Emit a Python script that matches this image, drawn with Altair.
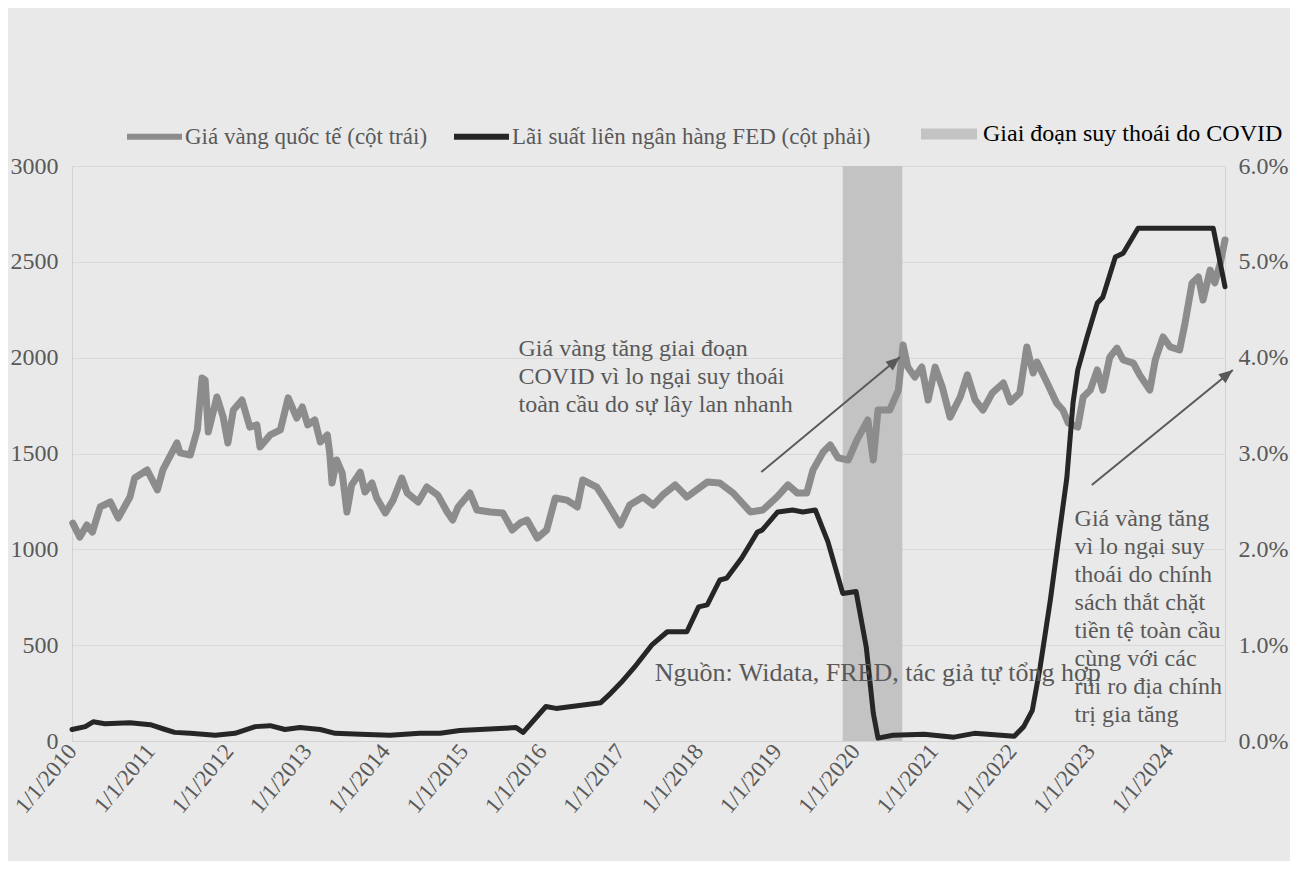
import altair as alt
import pandas as pd

# ---------------- data ----------------
GOLD = "Giá vàng quốc tế (cột trái)"
FED = "Lãi suất liên ngân hàng FED (cột phải)"
COVID = "Giai đoạn suy thoái do COVID"

gold_year = [2010.01, 2010.10, 2010.19, 2010.26, 2010.36, 2010.49, 2010.59, 2010.74, 2010.80, 2010.96,
             2011.09, 2011.16, 2011.34, 2011.38, 2011.51, 2011.60, 2011.66, 2011.70, 2011.74, 2011.85, 2011.93, 2011.99,
             2012.06, 2012.17, 2012.27, 2012.36, 2012.40, 2012.53, 2012.66, 2012.76, 2012.87, 2012.94,
             2013.01, 2013.10, 2013.17, 2013.26, 2013.29, 2013.32, 2013.38, 2013.45, 2013.51, 2013.57, 2013.68, 2013.74, 2013.83, 2013.89,
             2014.00, 2014.10, 2014.21, 2014.28, 2014.42, 2014.53, 2014.67, 2014.79, 2014.86, 2014.93,
             2015.08, 2015.17, 2015.34, 2015.50, 2015.62, 2015.72, 2015.81, 2015.94,
             2016.06, 2016.17, 2016.32, 2016.45, 2016.52, 2016.70, 2016.83,
             2017.00, 2017.12, 2017.29, 2017.42, 2017.54, 2017.70, 2017.85,
             2018.11, 2018.27, 2018.44, 2018.66, 2018.82,
             2019.00, 2019.14, 2019.26, 2019.38, 2019.46, 2019.59, 2019.68, 2019.78, 2019.91,
             2020.02, 2020.16, 2020.23, 2020.29, 2020.44, 2020.55, 2020.61, 2020.67, 2020.76, 2020.85, 2020.93,
             2021.02, 2021.11, 2021.21, 2021.34, 2021.43, 2021.53, 2021.63, 2021.75, 2021.89, 2021.98,
             2022.10, 2022.19, 2022.27, 2022.32, 2022.45, 2022.57, 2022.65, 2022.72, 2022.84, 2022.91,
             2023.00, 2023.09, 2023.16, 2023.25, 2023.34, 2023.42, 2023.55, 2023.63, 2023.76, 2023.83, 2023.93,
             2024.02, 2024.14, 2024.21, 2024.30, 2024.38, 2024.44, 2024.53, 2024.59, 2024.66, 2024.72]
gold_price = [1137, 1064, 1127, 1090, 1221, 1247, 1163, 1273, 1372, 1414,
              1310, 1414, 1555, 1503, 1492, 1623, 1894, 1883, 1612, 1795, 1690, 1555,
              1727, 1779, 1638, 1649, 1534, 1597, 1623, 1790, 1685, 1743,
              1649, 1675, 1560, 1597, 1503, 1346, 1466, 1398, 1195, 1336, 1403, 1299, 1346, 1268,
              1190, 1257, 1372, 1294, 1247, 1325, 1283, 1195, 1153, 1221,
              1294, 1205, 1195, 1190, 1101, 1137, 1153, 1059,
              1101, 1268, 1257, 1221, 1362, 1325, 1242,
              1127, 1231, 1273, 1231, 1283, 1336, 1273,
              1351, 1346, 1294, 1195, 1205,
              1273, 1336, 1294, 1294, 1414, 1508, 1545, 1477, 1466,
              1570, 1675, 1466, 1727, 1727, 1831, 2066, 1951, 1899, 1951, 1779,
              1951, 1847, 1690, 1795, 1910, 1779, 1727, 1816, 1868, 1769,
              1816, 2056, 1920, 1977, 1868, 1763, 1727, 1659, 1638, 1795,
              1831, 1936, 1831, 2003, 2050, 1988, 1972, 1910, 1831, 1988, 2108,
              2056, 2040, 2181, 2390, 2421, 2301, 2457, 2390, 2494, 2614]

fed_year = [2010.00, 2010.17, 2010.27, 2010.42, 2010.74, 2011.00, 2011.19, 2011.31, 2011.51, 2011.83,
            2012.08, 2012.34, 2012.53, 2012.72, 2012.91, 2013.17, 2013.36, 2013.68, 2014.06, 2014.44,
            2014.70, 2014.95, 2015.46, 2015.67, 2015.76, 2016.05, 2016.18, 2016.75, 2016.88, 2017.01,
            2017.20, 2017.40, 2017.60, 2017.85, 2018.00, 2018.11, 2018.27, 2018.36, 2018.55, 2018.75,
            2018.81, 2019.01, 2019.20, 2019.33, 2019.49, 2019.65, 2019.84, 2020.01, 2020.14, 2020.23,
            2020.29, 2020.48, 2020.88, 2021.26, 2021.52, 2022.03, 2022.15, 2022.26, 2022.36, 2022.49,
            2022.61, 2022.70, 2022.78, 2022.84, 2022.96, 2023.09, 2023.16, 2023.32, 2023.42, 2023.61,
            2024.57, 2024.72]
fed_rate = [0.12, 0.15, 0.20, 0.18, 0.19, 0.17, 0.12, 0.09, 0.08, 0.06,
            0.08, 0.15, 0.16, 0.12, 0.14, 0.12, 0.08, 0.07, 0.06, 0.08,
            0.08, 0.11, 0.13, 0.14, 0.09, 0.36, 0.34, 0.40, 0.50, 0.61,
            0.79, 1.00, 1.14, 1.14, 1.40, 1.42, 1.68, 1.70, 1.91, 2.18,
            2.20, 2.39, 2.41, 2.39, 2.41, 2.08, 1.54, 1.56, 0.98, 0.29,
            0.03, 0.06, 0.07, 0.04, 0.08, 0.05, 0.15, 0.32, 0.77, 1.47,
            2.20, 2.74, 3.53, 3.87, 4.22, 4.57, 4.63, 5.05, 5.09, 5.35,
            5.35, 4.74]

covid_start = [2019.84]
covid_end = [2020.60]

x_ticks = list(range(2010, 2025))
left_ticks = [0, 500, 1000, 1500, 2000, 2500, 3000]
right_ticks = [0, 1, 2, 3, 4, 5, 6]

note_text = [
    "Giá vàng tăng giai đoạn\nCOVID vì lo ngại suy thoái\ntoàn cầu do sự lây lan nhanh",
    "Giá vàng tăng\nvì lo ngại suy\nthoái do chính\nsách thắt chặt\ntiền tệ toàn cầu\ncùng với các\nrủi ro địa chính\ntrị gia tăng",
]
note_x = [2015.70, 2022.80]
note_y = [2009, 1122]

arrow_x1 = [2018.80, 2023.02]
arrow_y1 = [1403, 1336]
arrow_x2 = [2020.57, 2024.82]
arrow_y2 = [2003, 1936]
arrow_angle = [50, 51]

source_text = ["Nguồn: Widata, FRED, tác giả tự tổng hợp"]
source_x = [2017.44]
source_y = [313]

# ---------------- tables ----------------
gold_df = pd.DataFrame({"year": gold_year, "value": gold_price, "series": GOLD})
fed_df = pd.DataFrame({"year": fed_year, "value": fed_rate, "series": FED})
band_df = pd.DataFrame({"start": covid_start, "end": covid_end, "label": [COVID]})
note_df = pd.DataFrame({"x": note_x, "y": note_y, "text": note_text})
arrow_df = pd.DataFrame({"x1": arrow_x1, "y1": arrow_y1, "x2": arrow_x2, "y2": arrow_y2, "angle": arrow_angle})
source_df = pd.DataFrame({"x": source_x, "y": source_y, "text": source_text})

# ---------------- styling ----------------
FONT = "Liberation Serif"
TXT = "#595959"
AXC = "#d2d2d2"

xscale = alt.Scale(domain=[2010, 2024.72], nice=False, zero=False)
xaxis = alt.Axis(values=x_ticks, labelExpr="'1/1/' + datum.value", labelAngle=-50,
                 labelFont=FONT, labelFontSize=23, labelColor=TXT, ticks=False, grid=False,
                 domainColor=AXC, domainWidth=1, labelPadding=6, title=None, labelOverlap=False)
X = lambda f: alt.X(f, type="quantitative", scale=xscale, axis=xaxis)

gscale = alt.Scale(domain=[0, 3000], nice=False, zero=True)
GY = lambda f: alt.Y(f, type="quantitative", scale=gscale, axis=None)

color_scale = alt.Scale(domain=[GOLD, FED], range=["#8c8c8c", "#262626"])
line_legend = alt.Legend(title=None, orient="none", legendX=52, legendY=-60, direction="horizontal",
                         symbolType="stroke", symbolSize=3025, symbolStrokeWidth=6,
                         labelFont=FONT, labelFontSize=23, labelColor=TXT, labelLimit=0,
                         columnPadding=14, labelOffset=0, padding=0)
band_legend = alt.Legend(title=None, orient="none", legendX=849, legendY=-60,
                         symbolType="M-1,-0.2H1V0.2H-1Z", symbolSize=3136, symbolStrokeWidth=0,
                         labelFont=FONT, labelFontSize=24, labelColor="#000000", labelLimit=0,
                         labelOffset=6, padding=0)

band = alt.Chart(band_df).mark_rect().encode(
    x=X("start"), x2="end",
    fill=alt.Fill("label:N", scale=alt.Scale(domain=[COVID], range=["#c3c3c3"]), legend=band_legend),
)

gold_line = alt.Chart(gold_df).mark_line(strokeWidth=7, strokeJoin="round", strokeCap="round").encode(
    x=X("year"),
    y=alt.Y("value:Q", scale=gscale,
            axis=alt.Axis(orient="left", values=left_ticks, format="d", grid=True, gridColor="#d9d9d9",
                          ticks=False, labelFont=FONT, labelFontSize=24, labelColor=TXT, labelPadding=14,
                          domainColor=AXC, title=None)),
    color=alt.Color("series:N", scale=color_scale, legend=line_legend),
)

notes = alt.Chart(note_df).mark_text(align="left", baseline="alphabetic", lineBreak="\n", lineHeight=28,
                                     font=FONT, fontSize=24, color=TXT).encode(
    x=X("x"), y=GY("y"), text="text:N")

arrows = alt.Chart(arrow_df).mark_rule(strokeWidth=2, color="#595959").encode(
    x=X("x1"), y=GY("y1"), x2="x2", y2="y2")
heads = alt.Chart(arrow_df).mark_point(shape="M0,0L-0.45,1.1L0.45,1.1Z", size=650, filled=True,
                                       opacity=1, color="#595959").encode(
    x=X("x2"), y=GY("y2"), angle=alt.Angle("angle:Q", scale=None))

fed_line = alt.Chart(fed_df).mark_line(strokeWidth=5, strokeJoin="round", strokeCap="round").encode(
    x=X("year"),
    y=alt.Y("value:Q", scale=alt.Scale(domain=[0, 6], nice=False, zero=True),
            axis=alt.Axis(orient="right", values=right_ticks, grid=False, ticks=False,
                          labelExpr="format(datum.value, '.1f') + '%'",
                          labelFont=FONT, labelFontSize=24, labelColor=TXT, labelPadding=13,
                          domainColor=AXC, title=None)),
    color=alt.Color("series:N", scale=color_scale, legend=line_legend),
)

source = alt.Chart(source_df).mark_text(align="left", baseline="alphabetic", font=FONT, fontSize=26,
                                        color=TXT).encode(
    x=X("x"), y=GY("y"), text="text:N")

chart = alt.layer(band, gold_line, notes, arrows, heads, fed_line, source).resolve_scale(
    y="independent"
).properties(
    width=1153, height=575,
    autosize=alt.AutoSizeParams(type="none"),
    padding={"left": 64, "top": 158, "right": 65, "bottom": 120},
).configure(background="#e9e9e9").configure_view(stroke=None)

chart.save("out.html", embed_options={"renderer": "svg", "actions": False})
